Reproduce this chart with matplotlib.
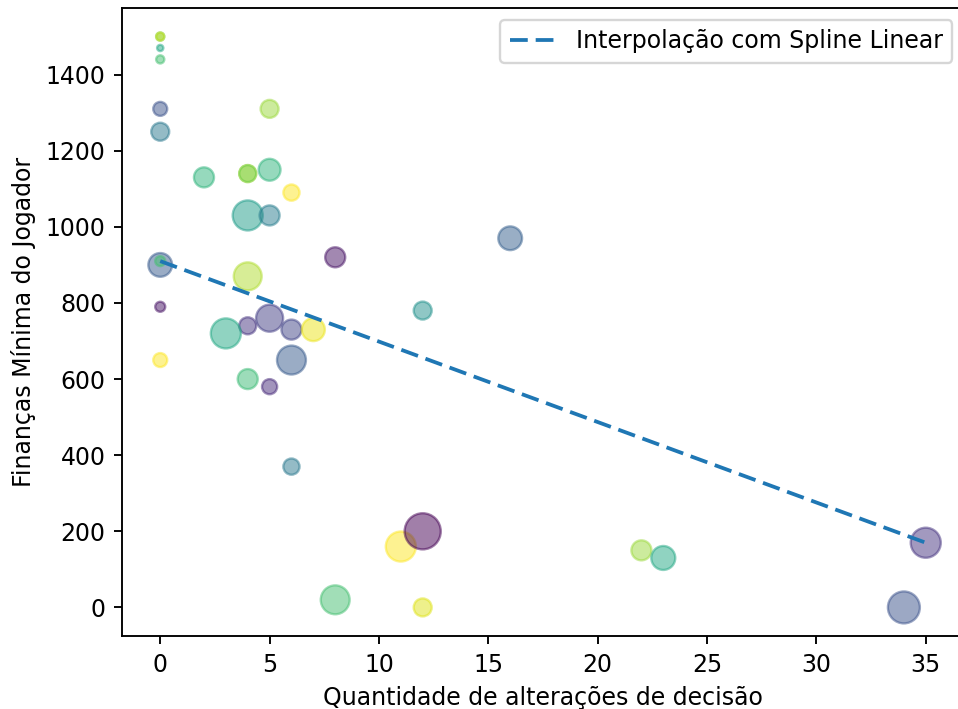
import matplotlib
matplotlib.use("Agg")
import matplotlib.pyplot as plt

# alteracoes de decisao, financas minimas, tamanho, cor (viridis)
alteracoes = [0, 0, 0, 0, 0, 0, 5, 2, 4, 4, 5, 6, 4, 5, 16, 8, 0, 0, 4, 0, 4, 5,
              6, 7, 3, 6, 0, 4, 5, 12, 6, 11, 12, 8, 12, 22, 23, 35, 34]
financas = [1500, 1500, 1470, 1440, 1310, 1250, 1310, 1130, 1140, 1140, 1150, 1090,
            1030, 1030, 970, 920, 900, 910, 870, 790, 740, 760, 730, 730, 720, 650,
            650, 600, 580, 780, 370, 160, 200, 20, 0, 150, 130, 170, 0]
tamanhos = [12, 12, 7, 12, 35, 58, 58, 72, 52, 52, 86, 47, 162, 72, 101, 72, 101,
            18, 140, 18, 52, 131, 72, 95, 162, 150, 35, 72, 41, 58, 47, 162, 234,
            150, 58, 72, 103, 162, 183]
cores = [0.75, 0.92, 0.6, 0.7, 0.25, 0.4, 0.85, 0.65, 0.92, 0.78, 0.65, 1.0, 0.55,
         0.42, 0.3, 0.05, 0.28, 0.7, 0.88, 0.05, 0.15, 0.18, 0.2, 0.97, 0.6, 0.28,
         1.0, 0.68, 0.12, 0.5, 0.4, 1.0, 0.0, 0.7, 0.95, 0.85, 0.6, 0.15, 0.25]

# reta interpolada
spline_x = [0, 35]
spline_y = [910, 170]

fig = plt.figure(figsize=(958 / 170, 709 / 170), dpi=170)
ax = fig.add_axes([0.1273, 0.1030, 0.879, 0.8857])

ax.scatter(alteracoes, financas, s=tamanhos, c=cores, cmap="viridis",
           vmin=0, vmax=1, alpha=0.5)
ax.plot(spline_x, spline_y, linestyle=(0, (4.7, 2.1)), lw=1.6,
        label="Interpolação com Spline Linear")
ax.set_xlim(-1.75, 36.75)
ax.spines["right"].set_visible(False)

ax.set_xlabel("Quantidade de alterações de decisão")
ax.set_ylabel("Finanças Mínima do Jogador")
ax.legend(loc="upper right")

fig.savefig("out.png", dpi=170)
